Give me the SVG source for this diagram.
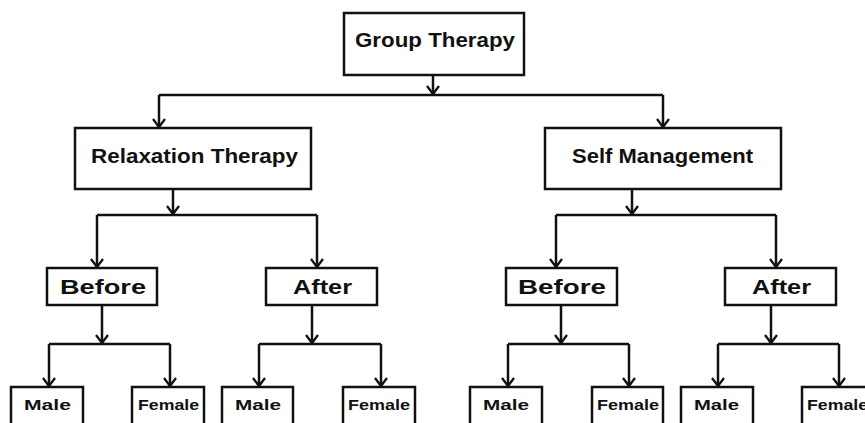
<svg xmlns="http://www.w3.org/2000/svg" width="865" height="423" viewBox="0 0 865 423">
<style>
.box{fill:#fff;stroke:#111;stroke-width:2.5}
.t{font-family:"Liberation Sans",Arial,sans-serif;font-weight:bold;fill:#111;text-anchor:start}
.c{fill:none;stroke:#111;stroke-width:2.5}
.a{marker-end:url(#ah)}
</style>
<defs>
<marker id="ah" markerUnits="userSpaceOnUse" viewBox="-10 -7 12 14" markerWidth="12" markerHeight="14" refX="0" refY="0" orient="auto">
<path d="M-8,-6 L0,0 L-8,6" fill="none" stroke="#111" stroke-width="2.3"/>
</marker>
</defs>
<rect width="865" height="423" fill="#fff"/>
<g id="connectors">
<path class="c a" d="M433,75 V94"/>
<path class="c" d="M159,95 H663"/>
<path class="c a" d="M159,95 V127"/>
<path class="c a" d="M663,95 V127"/>
<path class="c a" d="M173,189 V214"/>
<path class="c" d="M97,215 H317"/>
<path class="c a" d="M97,215 V267"/>
<path class="c a" d="M317,215 V267"/>
<path class="c a" d="M632,189 V214"/>
<path class="c" d="M556,215 H776"/>
<path class="c a" d="M556,215 V267"/>
<path class="c a" d="M776,215 V267"/>
<path class="c a" d="M102,305 V343"/>
<path class="c" d="M49,344 H170"/>
<path class="c a" d="M49,344 V386"/>
<path class="c a" d="M170,344 V386"/>
<path class="c a" d="M312,305 V343"/>
<path class="c" d="M259,344 H381"/>
<path class="c a" d="M259,344 V386"/>
<path class="c a" d="M381,344 V386"/>
<path class="c a" d="M561,305 V343"/>
<path class="c" d="M508,344 H629"/>
<path class="c a" d="M508,344 V386"/>
<path class="c a" d="M629,344 V386"/>
<path class="c a" d="M771,305 V343"/>
<path class="c" d="M718,344 H839"/>
<path class="c a" d="M718,344 V386"/>
<path class="c a" d="M839,344 V386"/>
</g>
<g id="group-therapy"><rect class="box" x="344" y="13" width="180" height="62"/><text class="t" x="355" y="47" font-size="21" textLength="160" lengthAdjust="spacingAndGlyphs">Group Therapy</text></g>
<g id="relaxation-therapy"><rect class="box" x="75" y="128" width="236" height="61"/><text class="t" x="91" y="163" font-size="21" textLength="207" lengthAdjust="spacingAndGlyphs">Relaxation Therapy</text></g>
<g id="self-management"><rect class="box" x="545" y="128" width="236" height="61"/><text class="t" x="572" y="163" font-size="21" textLength="181" lengthAdjust="spacingAndGlyphs">Self Management</text></g>
<g id="before-1"><rect class="box" x="47" y="268" width="110" height="37"/><text class="t" x="60" y="294" font-size="21" textLength="86" lengthAdjust="spacingAndGlyphs">Before</text></g>
<g id="after-1"><rect class="box" x="266" y="268" width="111" height="37"/><text class="t" x="293" y="294" font-size="21" textLength="59" lengthAdjust="spacingAndGlyphs">After</text></g>
<g id="before-2"><rect class="box" x="506" y="268" width="111" height="37"/><text class="t" x="518" y="294" font-size="21" textLength="88" lengthAdjust="spacingAndGlyphs">Before</text></g>
<g id="after-2"><rect class="box" x="725" y="268" width="111" height="37"/><text class="t" x="752" y="294" font-size="21" textLength="59" lengthAdjust="spacingAndGlyphs">After</text></g>
<g id="male-1"><rect class="box" x="11" y="387" width="72" height="45"/><text class="t" x="24" y="410" font-size="14" textLength="47" lengthAdjust="spacingAndGlyphs">Male</text></g>
<g id="female-1"><rect class="box" x="132" y="387" width="72" height="45"/><text class="t" x="138" y="410" font-size="14" textLength="61" lengthAdjust="spacingAndGlyphs">Female</text></g>
<g id="male-2"><rect class="box" x="222" y="387" width="71" height="45"/><text class="t" x="235" y="410" font-size="14" textLength="46" lengthAdjust="spacingAndGlyphs">Male</text></g>
<g id="female-2"><rect class="box" x="343" y="387" width="72" height="45"/><text class="t" x="348" y="410" font-size="14" textLength="62" lengthAdjust="spacingAndGlyphs">Female</text></g>
<g id="male-3"><rect class="box" x="470" y="387" width="72" height="45"/><text class="t" x="483" y="410" font-size="14" textLength="46" lengthAdjust="spacingAndGlyphs">Male</text></g>
<g id="female-3"><rect class="box" x="592" y="387" width="71" height="45"/><text class="t" x="597" y="410" font-size="14" textLength="62" lengthAdjust="spacingAndGlyphs">Female</text></g>
<g id="male-4"><rect class="box" x="681" y="387" width="72" height="45"/><text class="t" x="694" y="410" font-size="14" textLength="45" lengthAdjust="spacingAndGlyphs">Male</text></g>
<g id="female-4"><rect class="box" x="802" y="387" width="72" height="45"/><text class="t" x="807" y="410" font-size="14" textLength="61" lengthAdjust="spacingAndGlyphs">Female</text></g>
</svg>
